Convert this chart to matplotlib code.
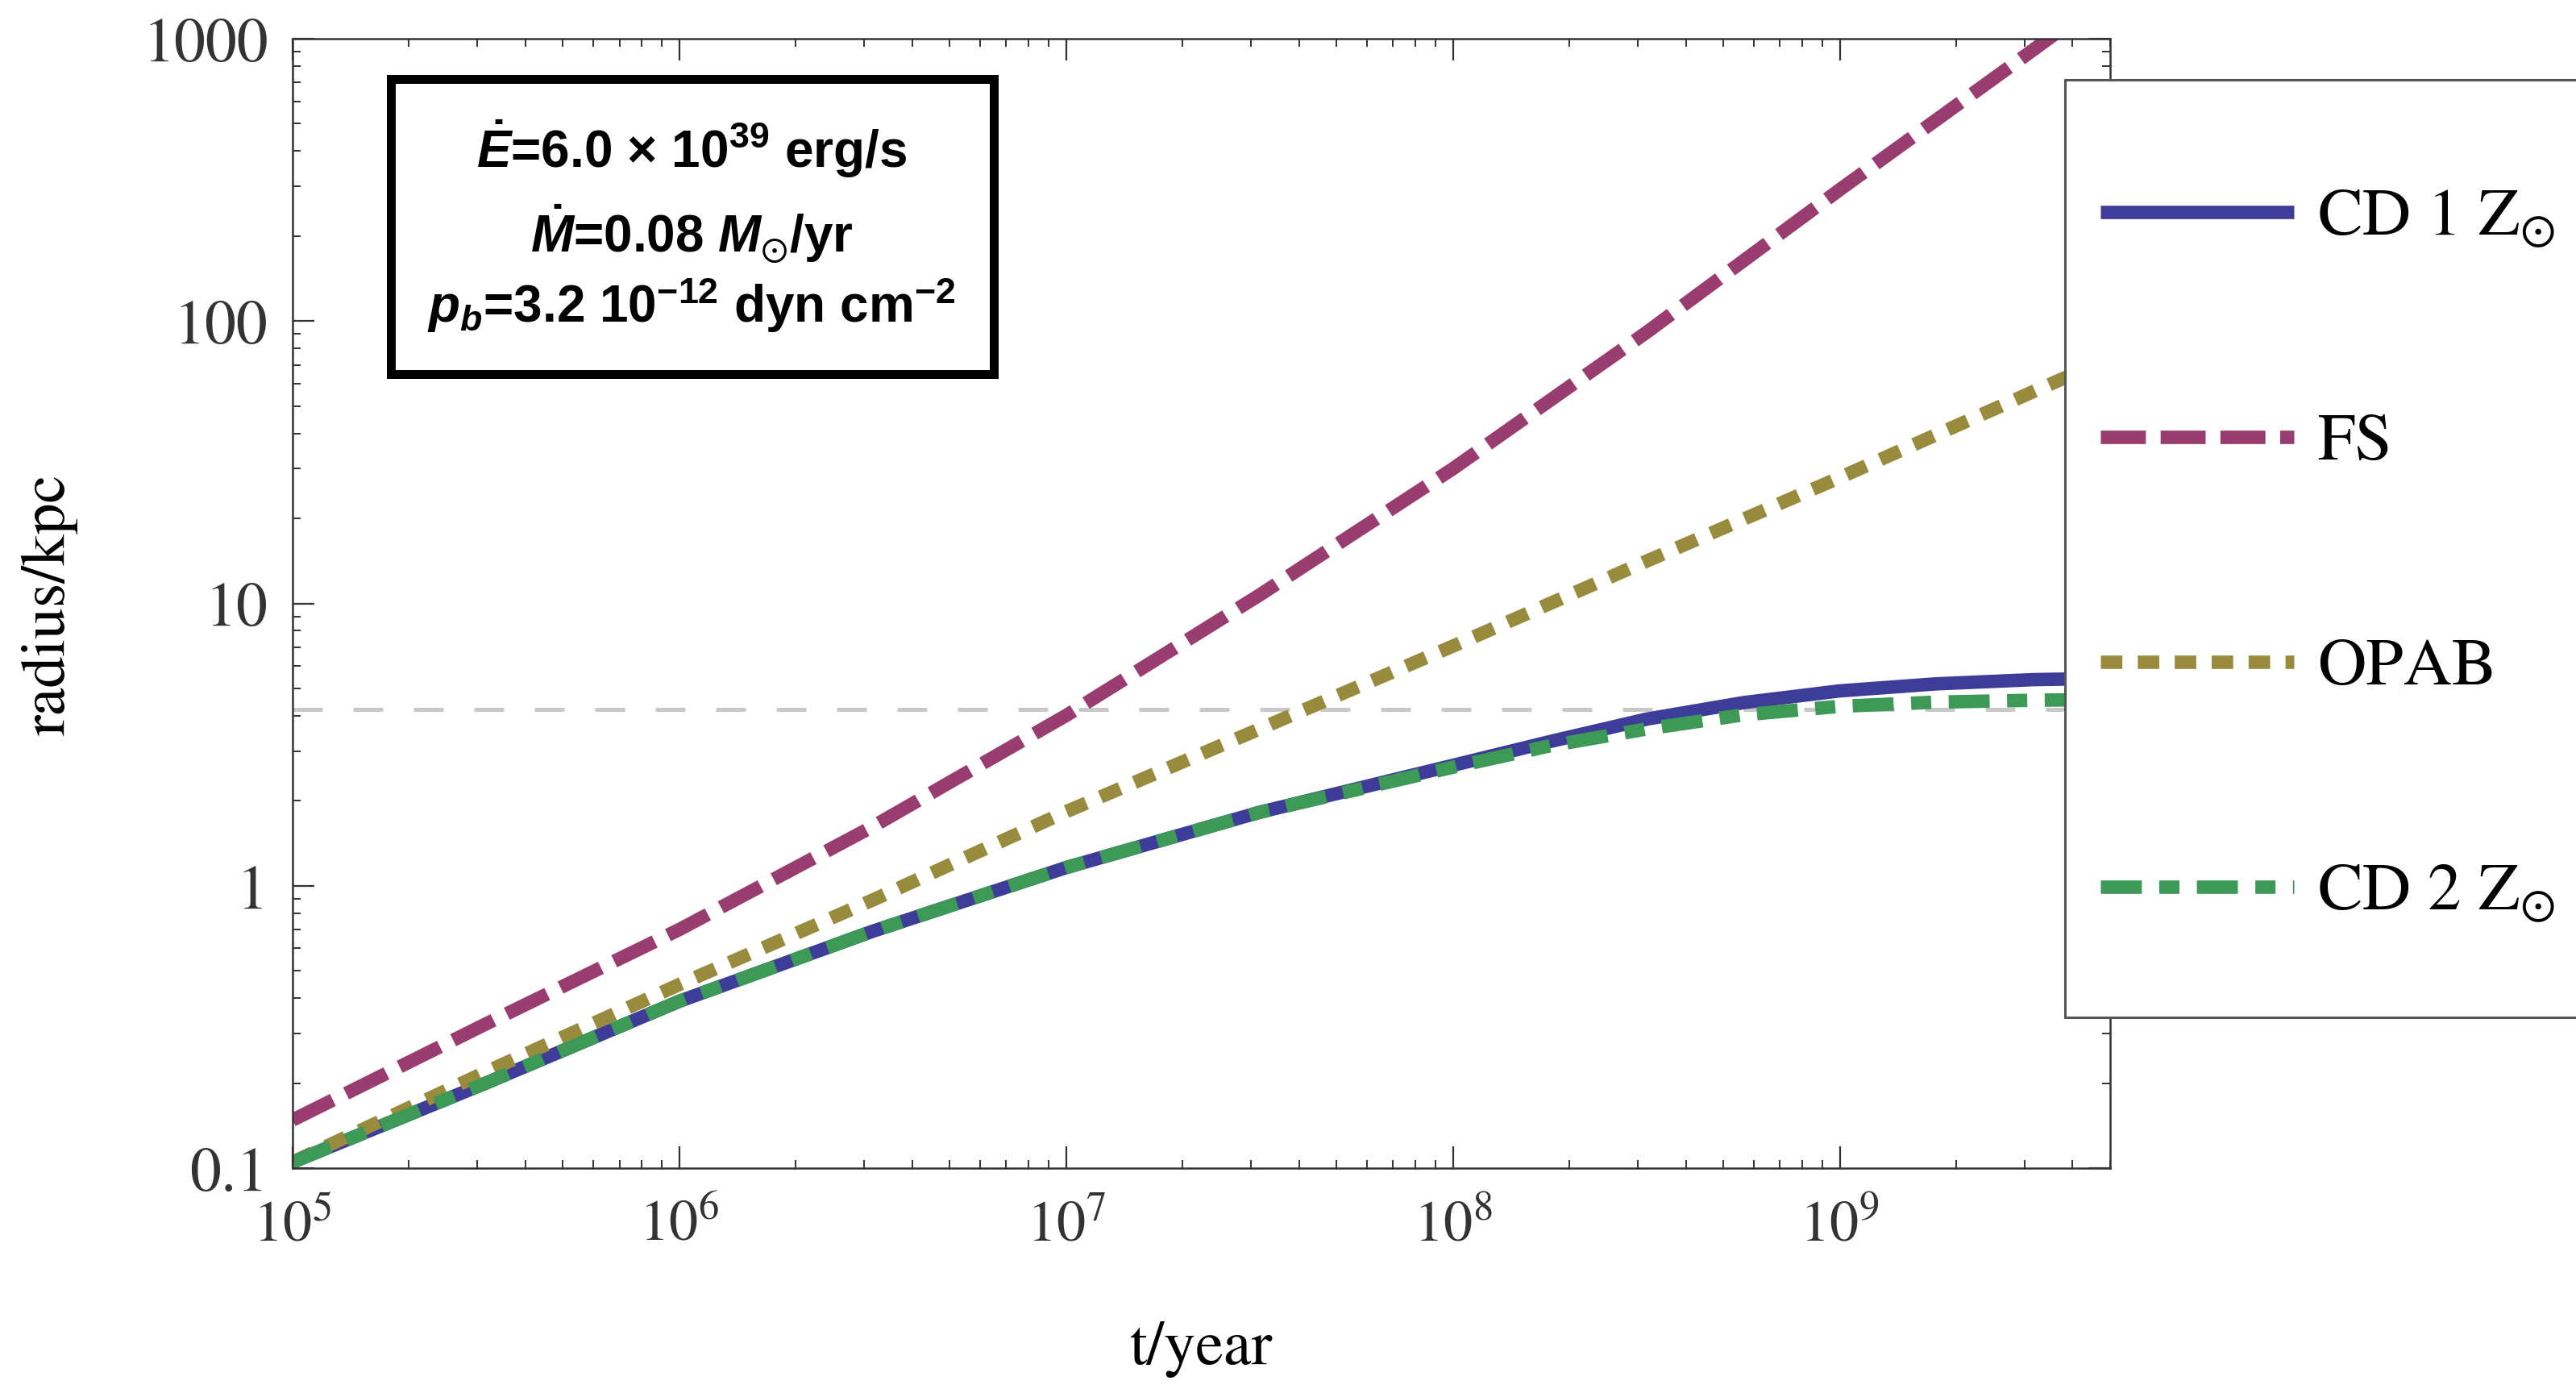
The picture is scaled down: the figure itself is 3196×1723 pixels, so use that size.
import matplotlib
matplotlib.use("Agg")
import matplotlib.pyplot as plt
from matplotlib.lines import Line2D
from matplotlib.patches import Rectangle
from matplotlib.ticker import LogLocator, FuncFormatter, NullFormatter, LogFormatterMathtext

# ---- data (t in years, radius in kpc) ----
t_cd = [1e5, 3.16e5, 1e6, 3.16e6, 1e7, 3.16e7, 1e8, 1.78e8, 3.16e8, 5.62e8, 1e9, 1.78e9, 3.16e9, 5e9]
r_cd1 = [0.105, 0.20, 0.39, 0.69, 1.16, 1.82, 2.67, 3.24, 3.89, 4.45, 4.90, 5.19, 5.37, 5.43]
r_cd2 = [0.105, 0.20, 0.39, 0.69, 1.16, 1.82, 2.63, 3.13, 3.59, 4.03, 4.32, 4.47, 4.54, 4.57]

t_fs = [1e5, 3.16e5, 1e6, 3.16e6, 1e7, 3.16e7, 1e8, 3.16e8, 1e9, 3.16e9, 5e9]
r_fs = [0.148, 0.324, 0.70, 1.62, 4.01, 10.7, 30.0, 91.0, 292.0, 912.0, 1445.0]
r_opab = [0.105, 0.219, 0.447, 0.89, 1.83, 3.59, 7.06, 14.1, 27.9, 56.2, 74.0]

r_ref = 4.2  # grey dashed reference radius

labels = ["CD 1 $\\mathrm{Z}_{\\odot}$", "FS", "OPAB", "CD 2 $\\mathrm{Z}_{\\odot}$"]
colors = ["#3d3d99", "#993d71", "#998b3d", "#3d9956"]

info_lines = [
    r"$\dot{E}$=6.0 × $10^{39}$ erg/s",
    r"$\dot{M}$=0.08 $M_{\odot}$/yr",
    r"$p_b$=3.2 $10^{-12}$ dyn $\mathrm{cm}^{-2}$",
]

# ---- style ----
plt.rcParams['font.family'] = ['STIXGeneral', 'DejaVu Serif']
plt.rcParams['mathtext.fontset'] = 'stix'
plt.rcParams['mathtext.rm'] = 'Liberation Sans:bold'
plt.rcParams['mathtext.it'] = 'Liberation Sans:italic:bold'
plt.rcParams['mathtext.bf'] = 'Liberation Sans:bold'
plt.rcParams['mathtext.fallback'] = 'stixsans'

W, H = 3196, 1724
fig = plt.figure(figsize=(W / 200, H / 200), dpi=200)


def fx(p):
    return p / W


def fy(p):
    return 1 - p / H


ax = fig.add_axes([fx(363), fy(1450), fx(2618) - fx(363), fy(49) - fy(1450)])

LW = 6.0
styles = [
    dict(linestyle="-", solid_capstyle="butt"),
    dict(dashes=(3.35, 1.1)),
    dict(dashes=(1.6, 1.15)),
    dict(dashes=(3.05, 1.3, 1.5, 1.3)),
]

ax.axhline(r_ref, color="#c8c8c8", lw=1.8, dashes=(7.4, 7.6), zorder=1)
ax.plot(t_cd, r_cd1, color=colors[0], lw=LW, zorder=2, **styles[0])
ax.plot(t_fs, r_fs, color=colors[1], lw=LW, zorder=2, **styles[1])
ax.plot(t_fs, r_opab, color=colors[2], lw=LW, zorder=2, **styles[2])
ax.plot(t_cd, r_cd2, color=colors[3], lw=LW, zorder=2, **styles[3])

ax.set_xscale("log")
ax.set_yscale("log")
ax.set_xlim(1e5, 5e9)
ax.set_ylim(0.1, 1000)

ax.xaxis.set_major_locator(LogLocator(base=10, numticks=20))
ax.xaxis.set_minor_locator(LogLocator(base=10, subs=range(2, 10), numticks=20))
ax.yaxis.set_major_locator(LogLocator(base=10, numticks=20))
ax.yaxis.set_minor_locator(LogLocator(base=10, subs=range(2, 10), numticks=20))
ax.xaxis.set_major_formatter(LogFormatterMathtext())
ax.yaxis.set_major_formatter(FuncFormatter(lambda v, p: "%g" % v))
ax.xaxis.set_minor_formatter(NullFormatter())
ax.yaxis.set_minor_formatter(NullFormatter())

ax.tick_params(which="both", direction="in", top=True, right=True, colors="#333333")
ax.tick_params(which="major", length=9.7, width=0.8, labelsize=28, pad=11)
ax.tick_params(which="minor", length=3.6, width=0.7)
ax.tick_params(axis="x", which="major", labelsize=26, pad=14)
for s in ax.spines.values():
    s.set_color("#333333")
    s.set_linewidth(0.9)

ax.set_xlabel("t/year", fontsize=28)
ax.set_ylabel("radius/kpc", fontsize=28)
ax.xaxis.set_label_coords(0.5, -0.135)
ax.yaxis.set_label_coords(-0.118, 0.5)

# ---- parameter box ----
fig.add_artist(Rectangle((fx(484.5), fy(464.5)), fx(1232.5) - fx(484.5), fy(98.5) - fy(464.5),
                         transform=fig.transFigure, facecolor="white", edgecolor="black",
                         lw=3.96, zorder=5))
for txt, base in zip(info_lines, [208, 313, 400]):
    fig.text(fx(858), fy(base), txt, ha="center", va="baseline", fontsize=23,
             fontfamily="Liberation Sans", fontweight="bold", math_fontfamily="custom",
             zorder=6)

# ---- legend (sits over the right edge of the axes) ----
fig.add_artist(Rectangle((fx(2562), fy(1263)), fx(3300) - fx(2562), fy(100) - fy(1263),
                         transform=fig.transFigure, facecolor="white", edgecolor="#555555",
                         lw=1.1, zorder=5, clip_on=False))
for i, (lab, col, st) in enumerate(zip(labels, colors, styles)):
    yrow = 264 + i * 279
    fig.add_artist(Line2D([fx(2606), fx(2846)], [fy(yrow), fy(yrow)], transform=fig.transFigure,
                          color=col, lw=LW, zorder=6, **st))
    fig.text(fx(2875), fy(yrow + 27), lab, fontsize=30, va="baseline", ha="left",
             math_fontfamily="stix", zorder=6)

fig.savefig("out.png", dpi=200)
